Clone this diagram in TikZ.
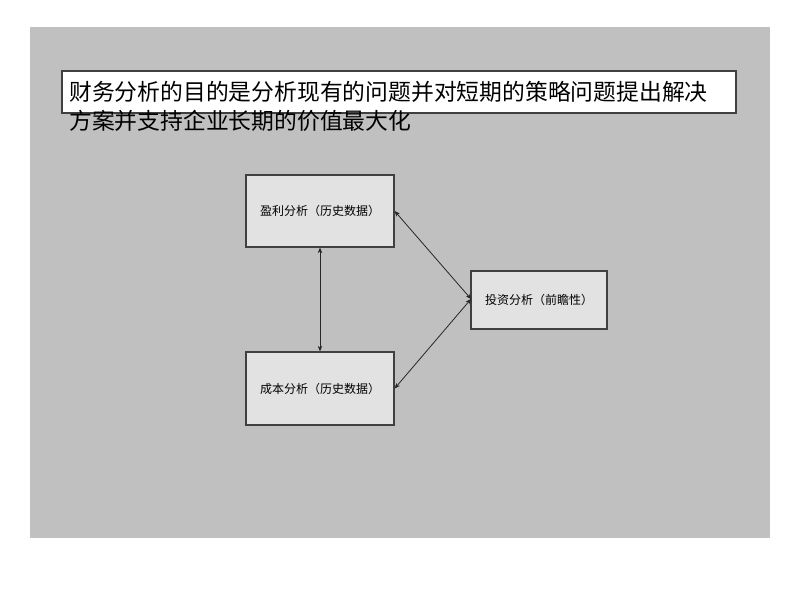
\documentclass[tikz,border=0pt]{standalone}
\usepackage{fontspec}
\newfontfamily\cjk{Noto Sans CJK SC}
\usetikzlibrary{arrows.meta}
\definecolor{bggray}{RGB}{192,192,192}
\definecolor{boxfill}{RGB}{226,226,226}
\definecolor{edge}{RGB}{64,64,64}
\tikzset{
  panel/.style={draw=edge,line width=1.3pt,fill=boxfill,rectangle,inner sep=0pt,font=\cjk\fontsize{12}{14}\selectfont},
  link/.style={draw=black!85,line width=0.8pt,{Stealth[length=5.5pt,width=4.5pt]}-{Stealth[length=5.5pt,width=4.5pt]}}
}
\begin{document}
\begin{tikzpicture}[x=1pt,y=-1pt]
\useasboundingbox (0,0) rectangle (800,600);
\fill[white] (0,0) rectangle (800,600);
\fill[bggray] (30,27) rectangle (770,538);
% title box
\node[draw=edge,line width=1.2pt,fill=white,rectangle,inner sep=0pt,minimum width=674pt,minimum height=42pt] (titlebox) at (399,92) {};
\node[anchor=north west,inner sep=0pt,align=left,font=\cjk\fontsize{22.8}{29}\selectfont] (titletext) at (69,81)
  {财务分析的目的是分析现有的问题并对短期的策略问题提出解决\\方案并支持企业长期的价值最大化};
% boxes
\node[panel,minimum width=148pt,minimum height=72pt] (profit) at (320,211) {盈利分析（历史数据）};
\node[panel,minimum width=148pt,minimum height=73pt] (cost) at (320,388.5) {成本分析（历史数据）};
\node[panel,minimum width=136pt,minimum height=58pt] (invest) at (539,300) {投资分析（前瞻性）};
% connectors
\coordinate (cin) at (471,299);
\draw[link] (profit.south) -- (cost.north);
\draw[link] (profit.east) -- (cin);
\draw[link] (cost.east) -- (cin);
\end{tikzpicture}
\end{document}
